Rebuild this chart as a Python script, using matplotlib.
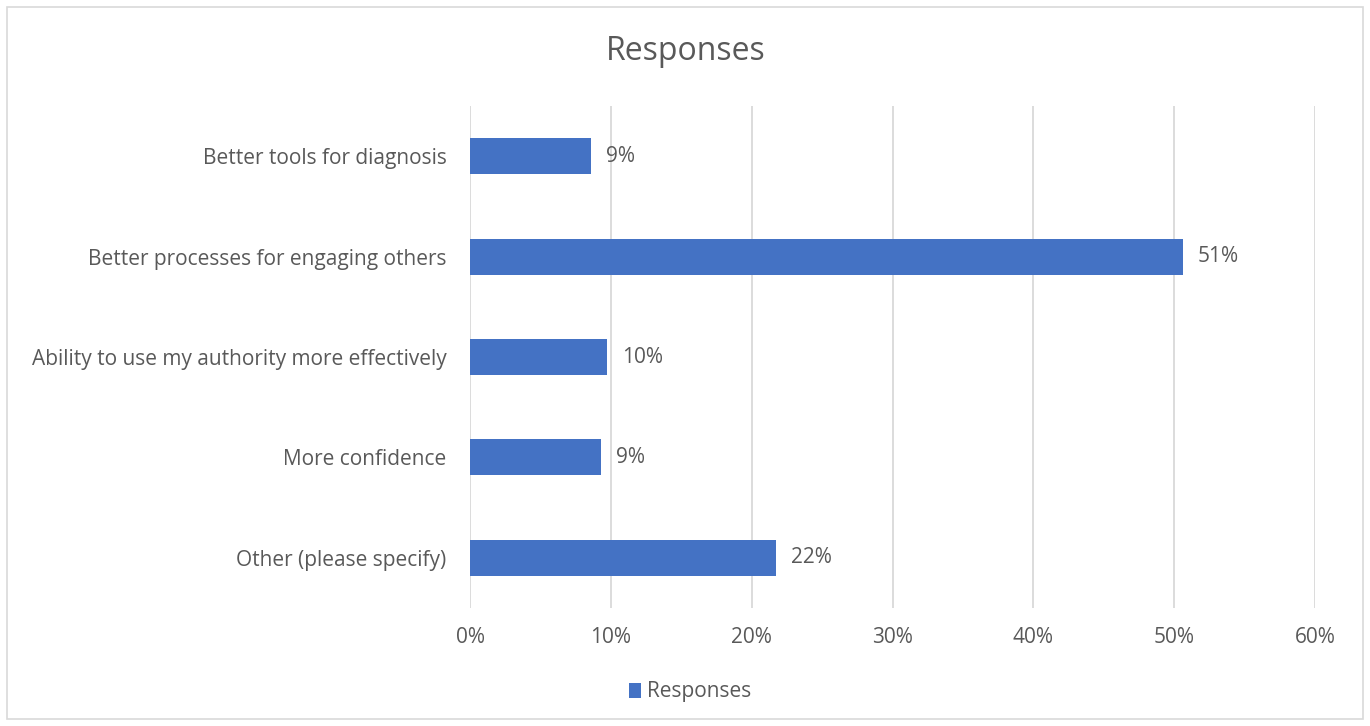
import matplotlib
matplotlib.use("Agg")
import matplotlib.pyplot as plt
from matplotlib.patches import Patch, Rectangle

categories = [
    "Better tools for diagnosis",
    "Better processes for engaging others",
    "Ability to use my authority more effectively",
    "More confidence",
    "Other (please specify)",
]
shares = [8.6, 50.6, 9.7, 9.3, 21.7]
x_ticks = [0, 10, 20, 30, 40, 50, 60]
series_name = "Responses"

BAR = "#4472C4"
TEXT = "#595959"
GRID = "#D9D9D9"
FS = 15

plt.rcParams["font.family"] = ["Open Sans", "DejaVu Sans"]

W, H = 1370, 726
fig = plt.figure(figsize=(W / 100, H / 100), dpi=100)
fig.patch.set_facecolor("white")

ax = fig.add_axes([470 / W, 1 - 608 / H, 845 / W, 502 / H])
pos = list(range(len(categories)))
ax.barh(pos, shares, height=0.36, color=BAR, zorder=3)

ax.set_xlim(0, 60)
ax.set_ylim(len(categories) - 0.5, -0.5)
ax.set_xticks(x_ticks)
ax.set_xticklabels([f"{t}%" for t in x_ticks])
ax.set_yticks(pos)
ax.set_yticklabels(categories)
ax.tick_params(axis="both", length=0, labelsize=FS, labelcolor=TEXT)
ax.tick_params(axis="y", pad=17)
ax.tick_params(axis="x", pad=14)
ax.grid(axis="x", color=GRID, linewidth=1.3, zorder=0)
for s in ax.spines.values():
    s.set_visible(False)

for p, v in zip(pos, shares):
    ax.annotate(f"{v:.0f}%", xy=(v, p), xytext=(11, 0), textcoords="offset points",
                va="center", ha="left", fontsize=FS, color=TEXT)

fig.text(686 / W, 1 - 51 / H, series_name, ha="center", va="center",
         fontsize=23, color=TEXT)

fig.legend(handles=[Patch(facecolor=BAR, label=series_name)],
           loc="center", bbox_to_anchor=(690 / W, 1 - 692 / H), frameon=False,
           handlelength=0.6, handleheight=0.7, handletextpad=0.3,
           fontsize=FS, labelcolor=TEXT)

fig.patches.append(Rectangle((7 / W, 7 / H), 1356 / W, 712 / H, transform=fig.transFigure,
                             fill=False, edgecolor=GRID, linewidth=1.2))

fig.savefig("out.png", dpi=100)
